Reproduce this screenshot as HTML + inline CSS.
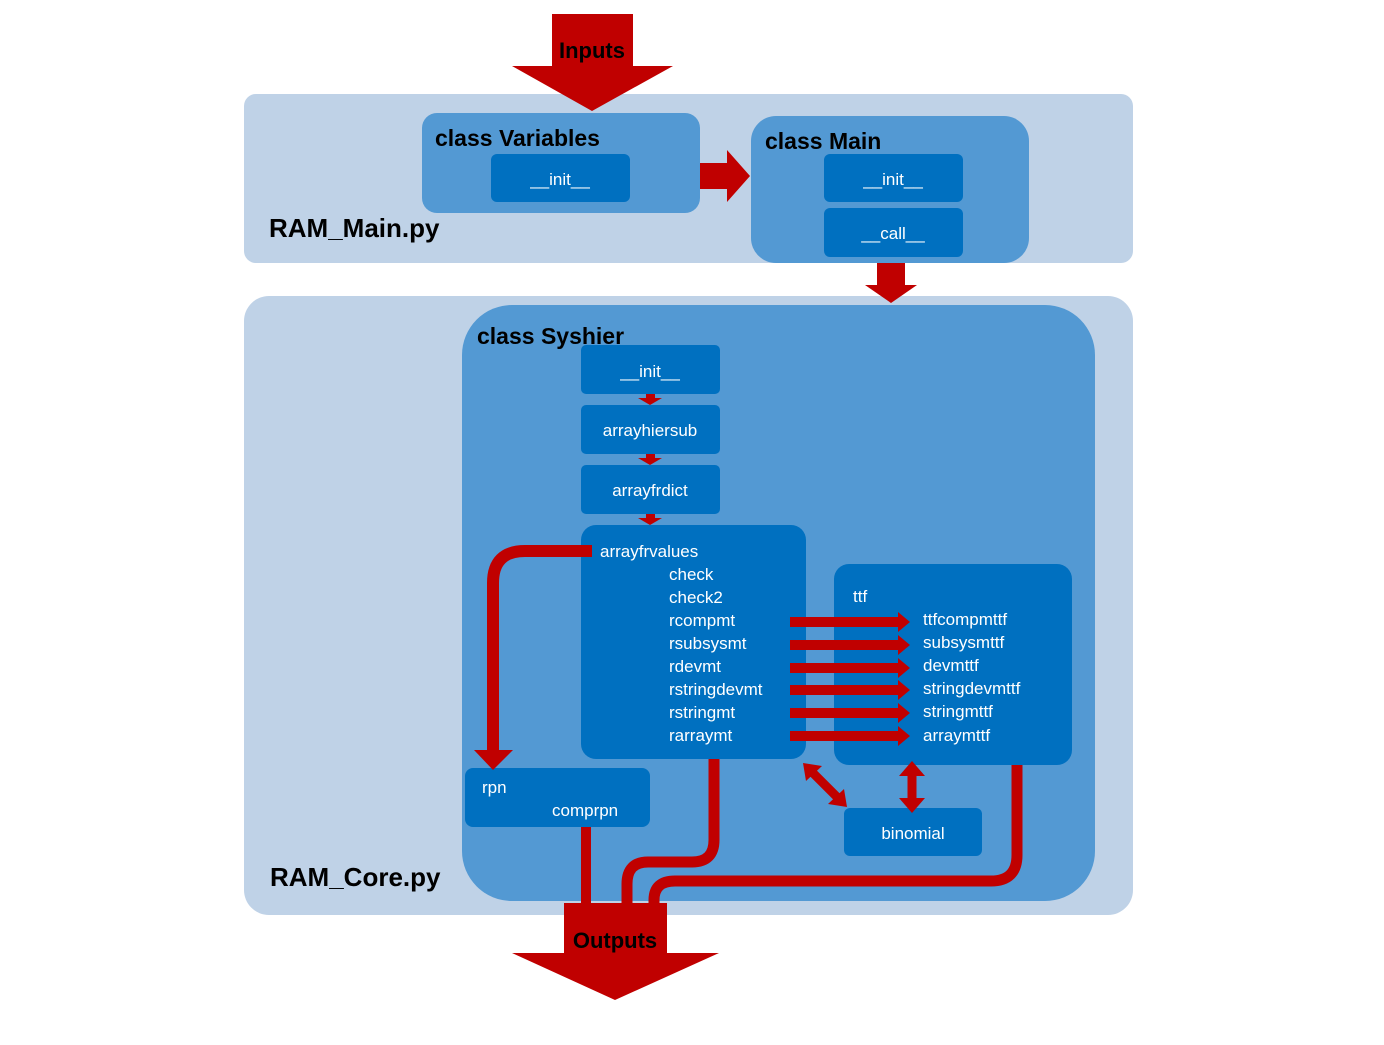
<!DOCTYPE html>
<html><head><style>
body{margin:0;background:#fff}
svg text{font-family:"Liberation Sans",sans-serif}
</style></head><body>
<svg width="1384" height="1040" viewBox="0 0 1384 1040" xmlns="http://www.w3.org/2000/svg">
<defs>
<marker id="ah" markerWidth="3" markerHeight="3" refX="0" refY="1.5" orient="auto" markerUnits="strokeWidth"><path d="M0,0 L3,1.5 L0,3z" fill="#c00000"/></marker>
</defs>
<rect x="244" y="94" width="889" height="169" rx="12" fill="#bfd2e7"/>
<rect x="244" y="296" width="889" height="619" rx="25" fill="#bfd2e7"/>
<!-- inputs -->
<polygon points="552,14 633,14 633,66 673,66 592,111 512,66 552,66" fill="#c00000"/>
<text x="592" y="58" font-size="22" font-weight="bold" text-anchor="middle" fill="#000">Inputs</text>
<rect x="422" y="113" width="278" height="100" rx="15" fill="#5399d3"/>
<text x="435" y="146" font-size="23" font-weight="bold">class Variables</text>
<rect x="491" y="154" width="139" height="48" rx="6" fill="#0070c0"/>
<text x="560" y="185" font-size="17" fill="#fff" text-anchor="middle">__init__</text>
<polygon points="700,163 727,163 727,150 750,176 727,202 727,189 700,189" fill="#c00000"/>
<rect x="751" y="116" width="278" height="147" rx="25" fill="#5399d3"/>
<text x="765" y="149" font-size="23" font-weight="bold">class Main</text>
<rect x="824" y="154" width="139" height="48" rx="6" fill="#0070c0"/>
<text x="893" y="185" font-size="17" fill="#fff" text-anchor="middle">__init__</text>
<rect x="824" y="208" width="139" height="49" rx="6" fill="#0070c0"/>
<text x="893" y="239" font-size="17" fill="#fff" text-anchor="middle">__call__</text>
<text x="269" y="237" font-size="26" font-weight="bold">RAM_Main.py</text>
<polygon points="877,263 905,263 905,285 917,285 891,303 865,285 877,285" fill="#c00000"/>
<text x="270" y="886" font-size="26" font-weight="bold">RAM_Core.py</text>
<rect x="462" y="305" width="633" height="596" rx="50" fill="#5399d3"/>
<text x="477" y="344" font-size="23" font-weight="bold">class  Syshier</text>
<rect x="581" y="345" width="139" height="49" rx="5" fill="#0070c0"/>
<text x="650" y="377" font-size="17" fill="#fff" text-anchor="middle">__init__</text>
<rect x="581" y="405" width="139" height="49" rx="5" fill="#0070c0"/>
<text x="650" y="436" font-size="17" fill="#fff" text-anchor="middle">arrayhiersub</text>
<rect x="581" y="465" width="139" height="49" rx="5" fill="#0070c0"/>
<text x="650" y="496" font-size="17" fill="#fff" text-anchor="middle">arrayfrdict</text>
<g fill="#c00000">
<polygon points="646,394 655,394 655,398 662,398 650,405 638,398 646,398"/>
<polygon points="646,454 655,454 655,458 662,458 650,465 638,458 646,458"/>
<polygon points="646,514 655,514 655,518 662,518 650,525 638,518 646,518"/>
</g>
<rect x="581" y="525" width="225" height="234" rx="15" fill="#0070c0"/>
<rect x="834" y="564" width="238" height="201" rx="15" fill="#0070c0"/>
<rect x="465" y="768" width="185" height="59" rx="8" fill="#0070c0"/>
<rect x="844" y="808" width="138" height="48" rx="6" fill="#0070c0"/>
<g fill="#fff" font-size="17">
<text x="600" y="557">arrayfrvalues</text>
<text x="669" y="580">check</text>
<text x="669" y="603">check2</text>
<text x="669" y="626">rcompmt</text>
<text x="669" y="649">rsubsysmt</text>
<text x="669" y="672">rdevmt</text>
<text x="669" y="695">rstringdevmt</text>
<text x="669" y="718">rstringmt</text>
<text x="669" y="741">rarraymt</text>
<text x="853" y="602">ttf</text>
<text x="923" y="625">ttfcompmttf</text>
<text x="923" y="648">subsysmttf</text>
<text x="923" y="671">devmttf</text>
<text x="923" y="694">stringdevmttf</text>
<text x="923" y="717">stringmttf</text>
<text x="923" y="741">arraymttf</text>
<text x="482" y="793">rpn</text>
<text x="552" y="816">comprpn</text>
<text x="913" y="839" text-anchor="middle">binomial</text>
</g>
<g fill="#c00000">
<polygon points="790,617 898,617 898,612 910,622 898,632 898,627 790,627"/>
<polygon points="790,640 898,640 898,635 910,645 898,655 898,650 790,650"/>
<polygon points="790,663 898,663 898,658 910,668 898,678 898,673 790,673"/>
<polygon points="790,685 898,685 898,680 910,690 898,700 898,695 790,695"/>
<polygon points="790,708 898,708 898,703 910,713 898,723 898,718 790,718"/>
<polygon points="790,731 898,731 898,726 910,736 898,746 898,741 790,741"/>
</g>
<g fill="none" stroke="#c00000">
<path d="M592,551 H525 Q493,551 493,583 V752" stroke-width="12"/>
<path d="M586,827 V905" stroke-width="10"/>
<path d="M714,759 V840 Q714,862 692,862 H648 Q627,862 627,884 V905" stroke-width="11"/>
<path d="M1017,765 V855 Q1017,881 991,881 H675 Q654,881 654,900 V905" stroke-width="11"/>
<path d="M812,772 L838,798" stroke-width="9"/>
<path d="M912,772 V802" stroke-width="9"/>
</g>
<g fill="#c00000">
<polygon points="474,750 513,750 493,770"/>
<polygon points="803,763 822,766 806,781"/>
<polygon points="847,807 828,804 844,789"/>
<polygon points="912,761 925,776 899,776"/>
<polygon points="912,813 925,798 899,798"/>
</g>
<polygon points="564,903 667,903 667,953 719,953 615,1000 512,953 564,953" fill="#c00000"/>
<text x="615" y="948" font-size="22" font-weight="bold" text-anchor="middle">Outputs</text>
</svg>
</body></html>
